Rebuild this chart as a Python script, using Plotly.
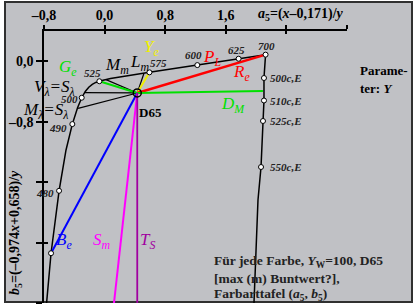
import plotly.graph_objects as go

# ---------------- data ----------------
locus_a5 = [-0.766, -0.707, -0.601, -0.510, -0.426, -0.357, -0.302, -0.255, -0.209,
            -0.163, -0.117, -0.069, -0.020, 0.078, 0.189, 0.324, 0.592, 1.224, 1.769, 2.125]
locus_b5 = [-3.200, -2.541, -1.715, -1.178, -0.832, -0.616, -0.483, -0.400, -0.344,
            -0.306, -0.281, -0.265, -0.252, -0.230, -0.210, -0.189, -0.147, -0.051, 0.033, 0.087]

marked_a5 = [-0.707, -0.601, -0.426, -0.302, -0.069, 0.592, 1.224, 1.769, 2.125]
marked_b5 = [-2.541, -1.715, -0.832, -0.483, -0.265, -0.147, -0.051, 0.033, 0.087]

ce_a5 = [2.125, 2.104, 2.104, 2.091, 2.065, 2.025, 1.972]
ce_b5 = [0.087, -0.222, -0.520, -0.791, -1.400, -1.837, -3.200]
ce_marked_a5 = [2.104, 2.104, 2.091, 2.065]
ce_marked_b5 = [-0.222, -0.520, -0.791, -1.400]
ce_labels = ["500c,E", "510c,E", "525c,E", "550c,E"]

d65_a5, d65_b5 = 0.431, -0.420

black_ray_a5 = [0.520, 0.018, -0.270, -0.350]
black_ray_b5 = [-0.159, -0.243, -0.415, -0.625]

color_ray_names = ["Ye", "Ge", "Be", "Re", "DM", "Sm", "TS"]
color_ray_a5 = [0.592, -0.069, -0.707, 2.125, 2.090, 0.124, 0.431]
color_ray_b5 = [-0.147, -0.265, -2.541, 0.087, -0.394, -3.200, -3.200]
color_ray_cols = ["#f0f000", "#00e000", "#0000ff", "#ff0000", "#00e000", "#ff00ff", "#a000a0"]
color_ray_w = [2, 2, 2, 2.5, 2, 2, 1.8]

x_tickvals = [-0.8, 0.0, 0.8, 1.6, 2.4, 3.2]
x_ticktext = ["<b>\u20130,8</b>", "<b>0,0</b>", "<b>0,8</b>", "<b>1,6</b>", "", ""]
y_tickvals = [0.0, -0.8, -1.6, -2.4, -3.2]
y_ticktext = ["<b>0,0</b>", "<b>\u20130,8</b>", "", "", ""]

# ---------------- layout helpers ----------------
W, H = 415, 308
L, R, T, B = 44, 347, 31, 303
FONT = "Liberation Serif"


def PX(px):
    return (px - L) / (R - L)


def PY(py):
    return (B - py) / (B - T)


fig = go.Figure()

# spectral locus
fig.add_trace(go.Scatter(x=locus_a5, y=locus_b5, mode="lines",
                         line=dict(color="black", width=1.5), hoverinfo="skip"))
# c,E line
fig.add_trace(go.Scatter(x=ce_a5, y=ce_b5, mode="lines",
                         line=dict(color="black", width=1.5), hoverinfo="skip"))
# black rays from D65
for ax_, by_ in zip(black_ray_a5, black_ray_b5):
    fig.add_trace(go.Scatter(x=[d65_a5, ax_], y=[d65_b5, by_], mode="lines",
                             line=dict(color="black", width=1.2), hoverinfo="skip"))
# coloured rays
for ax_, by_, c, w in zip(color_ray_a5, color_ray_b5, color_ray_cols, color_ray_w):
    fig.add_trace(go.Scatter(x=[d65_a5, ax_], y=[d65_b5, by_], mode="lines",
                             line=dict(color=c, width=w), hoverinfo="skip"))
# markers
fig.add_trace(go.Scatter(x=marked_a5 + ce_marked_a5, y=marked_b5 + ce_marked_b5, mode="markers",
                         marker=dict(symbol="circle", size=5, color="white",
                                     line=dict(color="black", width=1)), hoverinfo="skip"))
fig.add_trace(go.Scatter(x=[d65_a5], y=[d65_b5], mode="markers",
                         marker=dict(symbol="circle", size=8, color="rgba(0,0,0,0)",
                                     line=dict(color="black", width=1.5)), hoverinfo="skip"))
# dummy trace for overlay axes (inside ticks)
fig.add_trace(go.Scatter(x=[None], y=[None], xaxis="x2", yaxis="y2", showlegend=False))

ann = []


def add(text, px, py, size=17, color="black", xanchor="center", yanchor="middle", angle=0):
    ann.append(dict(text=text, x=PX(px), y=PY(py), xref="paper", yref="paper",
                    xanchor=xanchor, yanchor=yanchor, showarrow=False, textangle=angle,
                    font=dict(family=FONT, size=size, color=color)))


add("<i>G<sub>e</sub></i>", 68, 68, color="#00e000")
add("<i>Y<sub>e</sub></i>", 151, 48, color="#f0f000")
add("<i>M<sub>m</sub></i>", 117, 66)
add("<i>L<sub>m</sub></i>", 139, 63)
add("<i>P<sub>L</sub></i>", 212, 58, color="#ff0000")
add("<i>R<sub>e</sub></i>", 241, 73, color="#ff0000")
add("<i>D<sub>M</sub></i>", 233, 105, color="#00e000")
add("<i>V<sub>\u03bb</sub>=S<sub>\u03bb</sub></i>", 54, 88)
add("<i>M<sub>\u03bb</sub>=S<sub>\u03bb</sub></i>", 45, 111)
add("<i>B<sub>e</sub></i>", 64, 241, color="#0000ff")
add("<i>S<sub>m</sub></i>", 102, 241, color="#ff00ff")
add("<i>T<sub>S</sub></i>", 147, 241, color="#a000a0")

small = [("575", 158, 63), ("600", 193, 55), ("625", 236, 50), ("700", 266, 46),
         ("525", 92, 73), ("500", 69, 99), ("490", 58, 128), ("480", 45, 193)]
for t, x_, y_ in small:
    add("<b><i>" + t + "</i></b>", x_, y_, size=11, color="#222")

for t, y_ in zip(ce_labels, [78, 101, 121, 167]):
    add("<b><i>" + t + "</i></b>", 268, y_, size=11, color="#222", xanchor="left")

add("<b>Parame-</b>", 358, 70, size=13, xanchor="left")
add("<b>ter: <i>Y</i></b>", 358, 88, size=13, xanchor="left")
add("<b>D65</b>", 137, 112, size=13, xanchor="left")

add("<b>Für jede Farbe, <i>Y</i><sub>W</sub>=100, D65</b>", 212, 261, size=13.5, color="#222", xanchor="left")
add("<b>[max (m) Buntwert?],</b>", 212, 278, size=13.5, color="#222", xanchor="left")
add("<b>Farbarttafel (<i>a</i><sub>5</sub>, <i>b</i><sub>5</sub>)</b>", 212, 294, size=13.5, color="#222", xanchor="left")

add("<b><i>a</i><sub>5</sub>=(<i>x</i>\u20130,171)/<i>y</i></b>", 256, 15, size=14, xanchor="left")
add("<b><i>b</i><sub>5</sub>=(\u20130,974<i>x</i>+0,658)/<i>y</i></b>", 15, 233, size=14, angle=-90)
add("BG140\u20137A\u20131", 30, 304, size=9, color="#444", xanchor="left", yanchor="top")

frame = dict(type="rect", xref="paper", yref="paper", x0=PX(5), x1=PX(412), y0=PY(302), y1=PY(2),
             fillcolor="#c0c1c5", line=dict(color="#303030", width=2), layer="below")

axis_common = dict(showgrid=False, zeroline=False, linecolor="black", linewidth=1.5,
                   tickcolor="black", tickwidth=1.5,
                   tickfont=dict(family=FONT, size=14, color="black"))

fig.update_layout(
    width=W, height=H, autosize=False,
    margin=dict(l=L, r=W - R, t=T, b=H - B, pad=0),
    paper_bgcolor="white", plot_bgcolor="rgba(0,0,0,0)",
    showlegend=False,
    shapes=[frame],
    annotations=ann,
    xaxis=dict(range=[-0.8, 3.2], side="top", showline=True, ticks="outside", ticklen=4,
               tickvals=x_tickvals, ticktext=x_ticktext, **axis_common),
    yaxis=dict(range=[-3.2, 0.4], side="left", showline=True, ticks="outside", ticklen=6,
               tickvals=y_tickvals, ticktext=y_ticktext, **axis_common),
    xaxis2=dict(range=[-0.8, 3.2], overlaying="x", side="top", anchor="y2", showline=False,
                ticks="inside", ticklen=3, tickvals=x_tickvals, showticklabels=False,
                showgrid=False, zeroline=False, tickcolor="black", tickwidth=1.5),
    yaxis2=dict(range=[-3.2, 0.4], overlaying="y", side="left", anchor="x2", showline=False,
                ticks="inside", ticklen=4, tickvals=y_tickvals, showticklabels=False,
                showgrid=False, zeroline=False, tickcolor="black", tickwidth=1.5),
)

fig.write_html("out.html", config={"displayModeBar": False},
               post_script="document.body.style.margin='0px';document.body.style.padding='0px';")
